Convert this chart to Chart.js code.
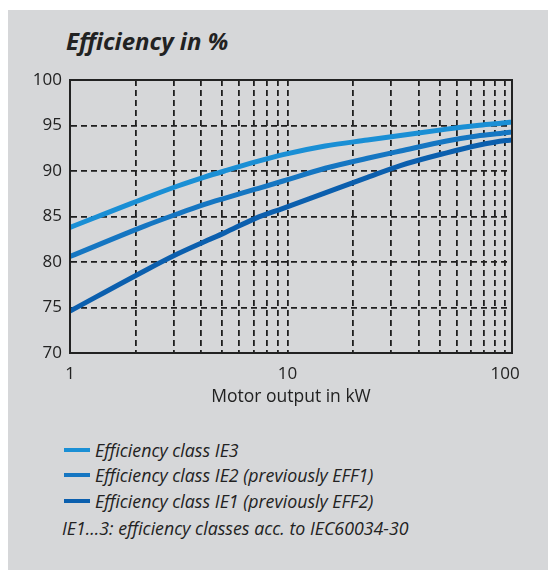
<!DOCTYPE html>
<html>
<head>
<meta charset="utf-8">
<script src="https://cdn.jsdelivr.net/npm/chart.js@4"></script>
<style>
  body { margin: 0; background: #fff; font-family: "Open Sans", sans-serif; }
  #panel { position: absolute; left: 8px; top: 10px; width: 540px; height: 560px; background: #d6d7d9; }
  #titulo { position: absolute; left: 66px; top: 29px; margin: 0; font: italic bold 24px "Open Sans", sans-serif; line-height: 23px; color: #222; }
  #wrap { position: absolute; left: 0; top: 0; width: 548px; height: 420px; }
  #leyenda { position: absolute; left: 64px; top: 437px; font: italic 17.8px "Open Sans", sans-serif; color: #222; }
  .item { display: flex; align-items: center; height: 25.5px; }
  .linea { width: 26px; height: 4px; margin-right: 5px; }
  #nota { position: absolute; left: 62px; top: 516px; font: italic 17.8px "Open Sans", sans-serif; line-height: 25.5px; color: #222; }
</style>
</head>
<body>
<div id="panel"></div>
<h1 id="titulo">Efficiency in %</h1>
<div id="wrap"><canvas id="grafico" width="548" height="420"></canvas></div>
<div id="leyenda"></div>
<div id="nota">IE1…3: efficiency classes acc. to IEC60034-30</div>
<script>
// Datos (potencia en kW, eficiencia en %)
const potencias = [1, 2.23, 3.13, 4.12, 5.13, 7.12, 9.54, 14.9, 23.3, 33, 53.9, 74.3, 100.7, 107.6];
const ie3 = [83.8, 87.05, 88.35, 89.3, 90.0, 91.0, 91.8, 92.75, 93.4, 93.9, 94.6, 95.0, 95.3, 95.4];
const ie2 = [80.6, 84.0, 85.3, 86.3, 87.0, 88.0, 88.9, 90.3, 91.4, 92.2, 93.3, 93.85, 94.2, 94.3];
const ie1 = [74.6, 79.1, 80.9, 82.2, 83.2, 84.8, 85.9, 87.6, 89.3, 90.6, 92.0, 92.8, 93.35, 93.4];
const nombres = [
  "Efficiency class IE3",
  "Efficiency class IE2 (previously EFF1)",
  "Efficiency class IE1 (previously EFF2)",
];
const xEtiquetas = [1, 10, 100];

const colores = ["#1a8fd5", "#1576c2", "#0b5fae"];
const series = [ie3, ie2, ie1];

// Leyenda en HTML
const leyenda = document.getElementById("leyenda");
nombres.forEach((nombre, i) => {
  leyenda.innerHTML += `<div class="item"><span class="linea" style="background:${colores[i]}"></span>${nombre}</div>`;
});

// Marco completo alrededor del área del gráfico
const marco = {
  id: "marco",
  afterDatasetsDraw(chart) {
    const { ctx, chartArea: a } = chart;
    ctx.save();
    ctx.setLineDash([]);
    ctx.strokeStyle = "#222";
    ctx.lineWidth = 2;
    ctx.strokeRect(a.left, a.top, a.right - a.left, a.bottom - a.top);
    ctx.restore();
  },
};

const fuenteTicks = { family: "'Open Sans', sans-serif", size: 17 };
const fuenteTitulo = { family: "'Open Sans', sans-serif", size: 17.5 };

new Chart(document.getElementById("grafico"), {
  type: "line",
  data: {
    datasets: series.map((valores, i) => ({
      label: nombres[i],
      data: valores.map((v, j) => ({ x: potencias[j], y: v })),
      borderColor: colores[i],
      borderWidth: 5,
      pointRadius: 0,
      cubicInterpolationMode: "monotone",
      fill: false,
    })),
  },
  options: {
    responsive: false,
    animation: false,
    layout: { padding: { top: 80, right: 36, left: 0, bottom: 0 } },
    plugins: { legend: { display: false }, tooltip: { enabled: false } },
    scales: {
      x: {
        type: "logarithmic",
        min: 1,
        max: 107.6,
        afterFit: (escala) => { escala.height = 67; },
        afterBuildTicks: (escala) => {
          escala.ticks = escala.ticks.filter((t) => {
            const p = Math.pow(10, Math.floor(Math.log10(t.value) + 1e-9));
            const s = t.value / p;
            return Math.abs(s - Math.round(s)) < 1e-6 && t.value <= 100;
          });
        },
        grid: { color: "#1e1e1e", lineWidth: 1.8, drawTicks: false },
        border: { color: "#222", width: 2, dash: [6, 4] },
        ticks: {
          autoSkip: false,
          maxRotation: 0,
          padding: 11,
          color: "#222",
          font: fuenteTicks,
          callback: (v) => (xEtiquetas.includes(v) ? String(v) : ""),
        },
        title: {
          display: true,
          text: "Motor output in kW",
          color: "#222",
          font: fuenteTitulo,
          padding: { top: 0, bottom: 12 },
        },
      },
      y: {
        min: 70,
        max: 100,
        afterFit: (escala) => { escala.width = 70; },
        grid: { color: "#1e1e1e", lineWidth: 1.8, drawTicks: false },
        border: { color: "#222", width: 2, dash: [6, 4] },
        ticks: { stepSize: 5, padding: 8, color: "#222", font: fuenteTicks },
      },
    },
  },
  plugins: [marco],
});
</script>
</body>
</html>
